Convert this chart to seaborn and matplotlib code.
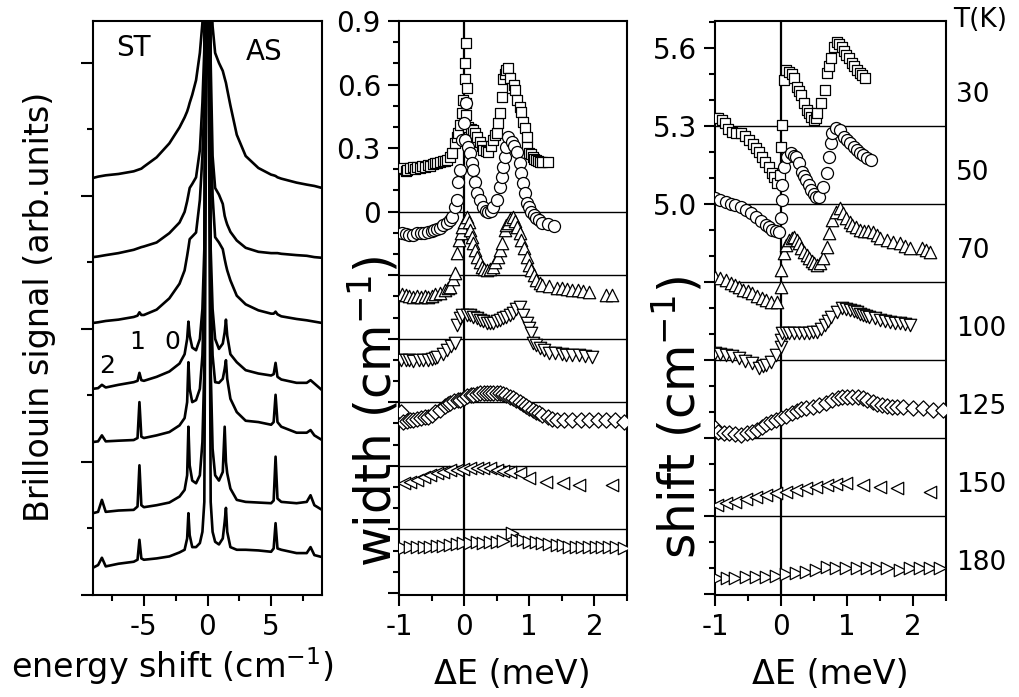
import matplotlib
matplotlib.use("Agg")
import matplotlib.pyplot as plt
import matplotlib.transforms as mtransforms
from matplotlib.ticker import FixedLocator, FixedFormatter, NullFormatter
import numpy as np
import seaborn as sns

# ---------------- left panel: Brillouin spectra (stacked, arb. units) ----------------
spec_x = [-9.0, -8.6, -8.3, -8.0, -7.0, -5.8, -5.5, -5.35, -5.2, -5.0, -4.0, -3.0,
          -2.2, -1.8, -1.6, -1.5, -1.4, -1.2, -0.9, -0.6, -0.4, -0.25, -0.1, 0.0,
          0.1, 0.25, 0.4, 0.6, 0.9, 1.2, 1.35, 1.45, 1.55, 1.8, 2.3, 3.0, 4.0, 5.0,
          5.2, 5.35, 5.5, 5.8, 7.0, 7.8, 8.1, 8.4, 9.0]
spec_1 = [6.27, 6.29, 6.30, 6.31, 6.33, 6.37, 6.39, 6.40, 6.41, 6.44, 6.58, 6.79,
          7.03, 7.18, 7.27, 7.33, 7.40, 7.52, 7.74, 8.15, 8.6, 9.3, 14, 20,
          14, 9.2, 8.55, 8.15, 8.0, 7.88, 7.77, 7.7, 7.6, 7.36, 6.92, 6.6, 6.42, 6.32,
          6.31, 6.30, 6.28, 6.26, 6.2, 6.17, 6.16, 6.15, 6.12]
spec_2 = [5.08, 5.09, 5.10, 5.11, 5.14, 5.19, 5.21, 5.22, 5.23, 5.24, 5.30, 5.44,
          5.60, 5.76, 5.92, 6.02, 6.12, 6.18, 6.28, 6.69, 7.4, 8.2, 14, 20,
          14, 8.0, 6.6, 6.12, 6.02, 5.88, 5.70, 5.63, 5.57, 5.46, 5.33, 5.22, 5.16, 5.14,
          5.14, 5.14, 5.14, 5.13, 5.11, 5.10, 5.09, 5.08, 5.07]
spec_3 = [4.09, 4.10, 4.11, 4.12, 4.14, 4.18, 4.20, 4.25, 4.21, 4.21, 4.29, 4.46,
          4.68, 4.88, 5.10, 5.22, 5.35, 5.39, 5.45, 5.94, 6.6, 7.4, 14, 20,
          14, 7.2, 6.0, 5.38, 5.30, 5.2, 5.05, 4.96, 4.88, 4.73, 4.50, 4.37, 4.28, 4.23,
          4.23, 4.26, 4.22, 4.19, 4.15, 4.13, 4.12, 4.11, 4.09]
spec_4 = [3.10, 3.11, 3.16, 3.12, 3.16, 3.20, 3.22, 3.34, 3.23, 3.22, 3.28, 3.36,
          3.48, 3.62, 3.85, 4.11, 3.90, 3.72, 3.68, 3.85, 4.3, 5.2, 12, 20,
          12, 5.2, 4.3, 3.85, 3.70, 3.78, 3.95, 4.14, 3.90, 3.62, 3.50, 3.38, 3.33, 3.30,
          3.32, 3.49, 3.28, 3.24, 3.19, 3.19, 3.23, 3.18, 3.08]
spec_5 = [2.30, 2.31, 2.40, 2.31, 2.32, 2.33, 2.36, 2.90, 2.38, 2.36, 2.40, 2.45,
          2.55, 2.66, 2.90, 3.50, 3.10, 2.90, 2.93, 3.10, 3.6, 4.6, 11, 20,
          11, 4.6, 3.6, 3.2, 3.19, 3.25, 3.40, 3.53, 3.25, 2.95, 2.75, 2.62, 2.60, 2.56,
          2.60, 3.01, 2.60, 2.53, 2.44, 2.44, 2.48, 2.40, 2.33]
spec_6 = [1.23, 1.25, 1.43, 1.25, 1.27, 1.28, 1.33, 1.95, 1.35, 1.32, 1.35, 1.39,
          1.48, 1.58, 1.80, 2.53, 1.95, 1.72, 1.68, 1.80, 2.3, 3.4, 10, 20,
          10, 3.4, 2.2, 1.8, 1.72, 1.85, 2.53, 2.0, 1.83, 1.6, 1.43, 1.40, 1.39, 1.38,
          1.42, 2.08, 1.45, 1.40, 1.38, 1.40, 1.50, 1.35, 1.28]
spec_7 = [0.41, 0.45, 0.56, 0.43, 0.47, 0.50, 0.53, 0.83, 0.55, 0.53, 0.55, 0.58,
          0.64, 0.68, 0.85, 1.23, 0.90, 0.72, 0.72, 0.78, 0.95, 1.4, 8, 20,
          8, 1.4, 0.95, 0.8, 0.76, 0.85, 1.10, 1.31, 0.95, 0.72, 0.68, 0.68, 0.67, 0.65,
          0.70, 1.08, 0.70, 0.68, 0.63, 0.63, 0.72, 0.60, 0.57]
spectra = [spec_1, spec_2, spec_3, spec_4, spec_5, spec_6, spec_7]

# ---------------- temperatures / markers ----------------
temps = ["30", "50", "70", "100", "125", "150", "180"]
markers = ["s", "o", "^", "v", "D", "<", ">"]
marker_sizes = [58, 75, 80, 80, 60, 80, 80]

# ---------------- middle panel: width (cm-1), offset curves ----------------
w30_x = [-0.98, -0.94, -0.9, -0.87, -0.83, -0.79, -0.75, -0.72, -0.68, -0.64, -0.6, -0.56,
         -0.52, -0.48, -0.44, -0.41, -0.37, -0.33, -0.29, -0.26, -0.22, -0.18, -0.14, -0.11,
         -0.09, -0.06, -0.03, -0.015, 0.015, 0.02, 0.03, 0.03, 0.03, 0.046, 0.06, 0.1, 0.14,
         0.17, 0.2, 0.24, 0.27, 0.29, 0.33, 0.37, 0.41, 0.44, 0.47, 0.5, 0.52, 0.55, 0.58,
         0.59, 0.62, 0.65, 0.67, 0.7, 0.73, 0.76, 0.78, 0.81, 0.85, 0.88, 0.9, 0.93, 0.96,
         0.97, 1.0, 1.03, 1.05, 1.08, 1.11, 1.14, 1.16, 1.2, 1.28]
w30_y = [0.20, 0.208, 0.19, 0.198, 0.205, 0.21, 0.20, 0.213, 0.205, 0.215, 0.21, 0.222,
         0.215, 0.225, 0.228, 0.231, 0.235, 0.238, 0.24, 0.246, 0.26, 0.279, 0.326, 0.35,
         0.373, 0.411, 0.468, 0.529, 0.624, 0.704, 0.794, 0.515, 0.458, 0.586, 0.40, 0.39, 0.387,
         0.37, 0.354, 0.331, 0.31, 0.293, 0.288, 0.283, 0.31, 0.34, 0.36, 0.373, 0.42, 0.468, 0.543,
         0.624, 0.65, 0.671, 0.68, 0.633, 0.586, 0.60, 0.576, 0.529, 0.496, 0.472, 0.425, 0.397, 0.354,
         0.307, 0.279, 0.27, 0.26, 0.25, 0.246, 0.24, 0.236, 0.236, 0.236]
w50_x = [-0.96, -0.9, -0.84, -0.78, -0.72, -0.66, -0.62, -0.56, -0.5, -0.47, -0.42, -0.37,
         -0.32, -0.26, -0.22, -0.18, -0.14, -0.11, -0.09, -0.06, -0.03, 0.0, 0.03, 0.015,
         0.06, 0.09, 0.12, 0.14, 0.17, 0.2, 0.24, 0.29, 0.33, 0.37, 0.41, 0.44, 0.5, 0.55,
         0.58, 0.59, 0.62, 0.65, 0.68, 0.73, 0.77, 0.81, 0.85, 0.88, 0.9, 0.93, 0.97, 1.0,
         1.03, 1.07, 1.11, 1.15, 1.2, 1.28, 1.38]
w50_y = [-0.099, -0.104, -0.109, -0.109, -0.10, -0.099, -0.099, -0.095, -0.09, -0.085, -0.08, -0.076,
         -0.065, -0.052, -0.04, -0.024, 0.02, 0.057, 0.142, 0.198, 0.34, 0.42, 0.515, 0.34,
         0.307, 0.279, 0.231, 0.198, 0.142, 0.09, 0.057, 0.024, 0.005, 0.0, 0.005, 0.024, 0.057, 0.118,
         0.165, 0.213, 0.26, 0.307, 0.35, 0.331, 0.31, 0.283, 0.231, 0.184, 0.137, 0.09, 0.042, 0.02,
         0.0, -0.015, -0.028, -0.04, -0.052, -0.06, -0.066]
w70_x = [-0.96, -0.9, -0.84, -0.78, -0.72, -0.66, -0.6, -0.56, -0.5, -0.44, -0.37, -0.3,
         -0.25, -0.21, -0.17, -0.14, -0.11, -0.08, -0.05, -0.03, 0.0, 0.05, 0.07, 0.09,
         0.12, 0.14, 0.17, 0.2, 0.24, 0.27, 0.31, 0.35, 0.4, 0.44, 0.48, 0.52, 0.55, 0.58,
         0.62, 0.65, 0.67, 0.71, 0.75, 0.78, 0.81, 0.85, 0.88, 0.92, 0.96, 1.0, 1.03, 1.07,
         1.11, 1.16, 1.2, 1.3, 1.42, 1.5, 1.58, 1.66, 1.75, 1.83, 1.92, 2.18, 2.27]
w70_y = [-0.39, -0.395, -0.40, -0.402, -0.40, -0.402, -0.40, -0.402, -0.398, -0.39, -0.383, -0.37,
         -0.36, -0.354, -0.32, -0.288, -0.194, -0.132, -0.1, -0.071, -0.05, -0.024, -0.05, -0.085,
         -0.12, -0.146, -0.18, -0.213, -0.24, -0.26, -0.27, -0.274, -0.27, -0.26, -0.24, -0.213, -0.18, -0.146,
         -0.085, -0.065, -0.052, -0.035, -0.024, -0.045, -0.071, -0.1, -0.132, -0.17, -0.213, -0.25, -0.274, -0.3,
         -0.321, -0.335, -0.345, -0.352, -0.359, -0.362, -0.365, -0.368, -0.372, -0.375, -0.378, -0.392, -0.392]
w100_x = [-0.97, -0.9, -0.84, -0.78, -0.7, -0.63, -0.56, -0.5, -0.45, -0.41, -0.33, -0.26,
          -0.2, -0.14, -0.11, -0.07, -0.03, 0.05, 0.09, 0.14, 0.19, 0.24, 0.29, 0.35, 0.4,
          0.44, 0.5, 0.55, 0.6, 0.65, 0.7, 0.75, 0.8, 0.85, 0.9, 0.96, 1.0, 1.03, 1.05, 1.1,
          1.16, 1.22, 1.31, 1.4, 1.5, 1.57, 1.65, 1.77, 1.85, 1.96]
w100_y = [-0.699, -0.70, -0.702, -0.704, -0.70, -0.70, -0.699, -0.695, -0.69, -0.685, -0.67, -0.652,
          -0.635, -0.619, -0.534, -0.5, -0.487, -0.487, -0.49, -0.496, -0.5, -0.51, -0.515, -0.524, -0.524,
          -0.524, -0.515, -0.51, -0.5, -0.496, -0.487, -0.477, -0.462, -0.449, -0.49, -0.524, -0.55, -0.572, -0.619, -0.63,
          -0.642, -0.652, -0.666, -0.668, -0.672, -0.676, -0.676, -0.676, -0.68, -0.685]
w125_x = [-0.97, -0.94, -0.88, -0.83, -0.78, -0.72, -0.66, -0.6, -0.56, -0.5, -0.44, -0.37,
          -0.3, -0.25, -0.21, -0.15, -0.1, -0.06, 0.0, 0.05, 0.1, 0.14, 0.2, 0.25, 0.3, 0.35,
          0.4, 0.45, 0.5, 0.55, 0.6, 0.65, 0.7, 0.75, 0.8, 0.85, 0.9, 0.95, 1.0, 1.05, 1.1,
          1.15, 1.2, 1.28, 1.35, 1.42, 1.54, 1.66, 1.79, 1.92, 2.05, 2.18, 2.31, 2.45]
w125_y = [-0.945, -0.992, -0.99, -0.985, -0.983, -0.98, -0.975, -0.97, -0.968, -0.96, -0.948, -0.935,
          -0.92, -0.91, -0.902, -0.895, -0.89, -0.888, -0.88, -0.872, -0.866, -0.864, -0.86, -0.857, -0.856, -0.855,
          -0.855, -0.855, -0.855, -0.855, -0.86, -0.866, -0.874, -0.882, -0.89, -0.898, -0.91, -0.918, -0.926, -0.935, -0.944,
          -0.95, -0.959, -0.97, -0.978, -0.983, -0.983, -0.983, -0.983, -0.983, -0.983, -0.983, -0.985, -0.992]
w150_x = [-0.93, -0.83, -0.72, -0.62, -0.52, -0.42, -0.32, -0.21, -0.11, -0.01, 0.09, 0.19,
          0.29, 0.39, 0.5, 0.6, 0.7, 0.85, 1.0, 1.26, 1.51, 1.77, 2.27]
w150_y = [-1.28, -1.275, -1.266, -1.255, -1.243, -1.235, -1.228, -1.222, -1.219, -1.214, -1.209, -1.209,
          -1.209, -1.212, -1.219, -1.224, -1.228, -1.233, -1.257, -1.276, -1.28, -1.29, -1.29]
w180_x = [-0.93, -0.83, -0.72, -0.62, -0.52, -0.42, -0.32, -0.21, -0.11, -0.01, 0.09, 0.19,
          0.29, 0.39, 0.5, 0.6, 0.73, 0.81, 0.9, 1.0, 1.1, 1.2, 1.31, 1.42, 1.52, 1.61, 1.71,
          1.81, 1.92, 2.02, 2.12, 2.22, 2.33, 2.45]
w180_y = [-1.587, -1.585, -1.583, -1.583, -1.583, -1.58, -1.578, -1.572, -1.568, -1.566, -1.564, -1.562,
          -1.564, -1.562, -1.559, -1.555, -1.516, -1.549, -1.55, -1.559, -1.562, -1.564, -1.568, -1.573, -1.575,
          -1.583, -1.583, -1.583, -1.583, -1.583, -1.585, -1.583, -1.585, -1.587]
width_x = [w30_x, w50_x, w70_x, w100_x, w125_x, w150_x, w180_x]
width_y = [w30_y, w50_y, w70_y, w100_y, w125_y, w150_y, w180_y]
width_lines = [0.0, -0.3, -0.6, -0.9, -1.2, -1.5]

# ---------------- right panel: shift (cm-1), offset curves ----------------
s30_x = [-1.0, -0.95, -0.9, -0.85, -0.8, -0.75, -0.68, -0.6, -0.55, -0.49, -0.43, -0.38,
         -0.33, -0.29, -0.24, -0.18, -0.14, -0.11, -0.06, -0.02, 0.0, 0.015, 0.05, 0.08,
         0.12, 0.16, 0.2, 0.24, 0.27, 0.31, 0.35, 0.4, 0.43, 0.46, 0.5, 0.53, 0.55, 0.61,
         0.66, 0.7, 0.73, 0.76, 0.81, 0.85, 0.88, 0.92, 0.96, 0.99, 1.03, 1.07, 1.11, 1.15,
         1.19, 1.22, 1.27]
s30_y = [5.331, 5.33, 5.323, 5.31, 5.29, 5.277, 5.275, 5.273, 5.26, 5.246, 5.23, 5.215,
         5.2, 5.181, 5.16, 5.142, 5.12, 5.104, 5.081, 5.11, 5.219, 5.304, 5.477, 5.515,
         5.508, 5.5, 5.485, 5.45, 5.435, 5.419, 5.388, 5.362, 5.35, 5.335, 5.323, 5.33, 5.35, 5.388,
         5.438, 5.504, 5.53, 5.562, 5.604, 5.623, 5.615, 5.604, 5.59, 5.573, 5.56, 5.542, 5.53, 5.515,
         5.505, 5.496, 5.485]
s50_x = [-1.0, -0.92, -0.84, -0.76, -0.69, -0.61, -0.53, -0.45, -0.38, -0.3, -0.23, -0.18,
         -0.14, -0.08, -0.03, 0.0, 0.015, 0.015, 0.05, 0.09, 0.15, 0.19, 0.23, 0.27, 0.32,
         0.35, 0.38, 0.42, 0.46, 0.5, 0.53, 0.58, 0.63, 0.69, 0.73, 0.76, 0.78, 0.84, 0.89,
         0.96, 1.0, 1.04, 1.1, 1.15, 1.2, 1.24, 1.3, 1.37]
s50_y = [5.023, 5.015, 5.008, 5.0, 4.996, 4.988, 4.977, 4.965, 4.95, 4.935, 4.919, 4.91,
         4.9, 4.895, 4.892, 4.946, 5.015, 5.073, 5.142, 5.181, 5.196, 5.185, 5.181, 5.158, 5.123,
         5.108, 5.092, 5.073, 5.054, 5.04, 5.027, 5.027, 5.065, 5.119, 5.181, 5.235, 5.273, 5.292, 5.285,
         5.258, 5.245, 5.235, 5.22, 5.208, 5.198, 5.188, 5.178, 5.169]
s70_x = [-1.0, -0.92, -0.84, -0.76, -0.7, -0.64, -0.57, -0.5, -0.44, -0.37, -0.29, -0.22,
         -0.15, -0.06, 0.0, 0.0, 0.05, 0.08, 0.12, 0.16, 0.2, 0.24, 0.27, 0.31, 0.35, 0.39,
         0.43, 0.47, 0.5, 0.55, 0.59, 0.63, 0.69, 0.73, 0.78, 0.84, 0.89, 0.94, 0.99, 1.04,
         1.08, 1.13, 1.19, 1.25, 1.32, 1.39, 1.45, 1.5, 1.6, 1.7, 1.8, 1.88, 1.95, 2.14, 2.2,
         2.26]
s70_y = [4.719, 4.714, 4.708, 4.695, 4.69, 4.681, 4.67, 4.664, 4.658, 4.648, 4.638, 4.63,
         4.623, 4.623, 4.681, 4.746, 4.812, 4.842, 4.862, 4.87, 4.873, 4.862, 4.85, 4.832, 4.815, 4.803,
         4.792, 4.78, 4.773, 4.765, 4.775, 4.792, 4.835, 4.888, 4.938, 4.97, 4.985, 4.965, 4.946, 4.93,
         4.919, 4.91, 4.9, 4.897, 4.895, 4.892, 4.88, 4.87, 4.862, 4.855, 4.85, 4.84, 4.831, 4.831, 4.823,
         4.815]
s100_x = [-1.0, -0.92, -0.84, -0.74, -0.64, -0.54, -0.44, -0.34, -0.28, -0.23, -0.15, -0.08,
          0.0, 0.0, 0.02, 0.07, 0.12, 0.19, 0.27, 0.35, 0.43, 0.49, 0.55, 0.6, 0.66, 0.71,
          0.76, 0.85, 0.93, 0.99, 1.04, 1.1, 1.15, 1.2, 1.24, 1.29, 1.34, 1.42, 1.5, 1.58,
          1.65, 1.72, 1.8, 1.88, 1.95]
s100_y = [4.427, 4.423, 4.419, 4.414, 4.408, 4.398, 4.388, 4.369, 4.375, 4.381, 4.392, 4.419,
          4.45, 4.477, 4.504, 4.504, 4.504, 4.504, 4.504, 4.504, 4.504, 4.506, 4.508, 4.52, 4.535, 4.55,
          4.565, 4.585, 4.6, 4.596, 4.592, 4.588, 4.585, 4.578, 4.573, 4.569, 4.565, 4.56, 4.554, 4.55,
          4.546, 4.544, 4.542, 4.538, 4.535]
s125_x = [-1.0, -0.95, -0.87, -0.79, -0.7, -0.6, -0.52, -0.44, -0.36, -0.29, -0.22, -0.15,
          -0.08, 0.0, 0.08, 0.17, 0.24, 0.31, 0.38, 0.48, 0.58, 0.68, 0.78, 0.86, 0.93, 1.0,
          1.08, 1.16, 1.24, 1.31, 1.39, 1.46, 1.53, 1.6, 1.68, 1.76, 1.85, 2.0, 2.15, 2.3, 2.45]
s125_y = [4.138, 4.123, 4.121, 4.119, 4.115, 4.112, 4.118, 4.123, 4.132, 4.142, 4.152, 4.162,
          4.17, 4.177, 4.186, 4.196, 4.203, 4.21, 4.215, 4.221, 4.227, 4.236, 4.246, 4.252, 4.258, 4.258,
          4.258, 4.256, 4.254, 4.246, 4.238, 4.232, 4.227, 4.223, 4.219, 4.219, 4.219, 4.215, 4.215, 4.208,
          4.208]
s150_x = [-0.97, -0.84, -0.69, -0.53, -0.38, -0.23, -0.08, 0.08, 0.23, 0.38, 0.53, 0.69,
          0.84, 0.99, 1.24, 1.5, 1.76, 2.26]
s150_y = [3.842, 3.85, 3.854, 3.865, 3.873, 3.881, 3.888, 3.892, 3.9, 3.908, 3.912, 3.919,
          3.923, 3.927, 3.919, 3.912, 3.908, 3.892]
s180_x = [-0.97, -0.82, -0.69, -0.53, -0.38, -0.23, -0.08, 0.08, 0.23, 0.38, 0.53, 0.69,
          0.84, 0.99, 1.15, 1.3, 1.45, 1.6, 1.8, 1.95, 2.11, 2.26, 2.41]
s180_y = [3.562, 3.562, 3.562, 3.565, 3.565, 3.565, 3.569, 3.577, 3.581, 3.585, 3.592, 3.604,
          3.6, 3.6, 3.6, 3.6, 3.6, 3.6, 3.592, 3.6, 3.6, 3.6, 3.6]
shift_x = [s30_x, s50_x, s70_x, s100_x, s125_x, s150_x, s180_x]
shift_y = [s30_y, s50_y, s70_y, s100_y, s125_y, s150_y, s180_y]
shift_lines = [5.3, 5.0, 4.7, 4.4, 4.1, 3.8]

W, H = 1019, 697


def px_axes(x0, x1, y0, y1):
    # pixel box (left, right, top, bottom) -> figure fraction rect
    return [x0 / W, (H - y1) / H, (x1 - x0) / W, (y1 - y0) / H]


def style_ticks(ax):
    for sp in ax.spines.values():
        sp.set_linewidth(1.5)
        sp.set_color("black")
    ax.tick_params(which="major", length=8, width=1.5, direction="out",
                   labelsize=20, pad=5, color="black")
    ax.tick_params(which="minor", length=4.5, width=1.5, direction="out", color="black")


def main():
    sns.set_style("ticks", rc={"axes.edgecolor": "black", "text.color": "black",
                               "axes.labelcolor": "black", "xtick.color": "black",
                               "ytick.color": "black"})
    plt.rcParams["font.family"] = ["DejaVu Sans"]
    plt.rcParams["axes.unicode_minus"] = False

    fig = plt.figure(figsize=(W / 100, H / 100), dpi=100)
    ax0 = fig.add_axes(px_axes(93, 322, 21, 595))
    ax1 = fig.add_axes(px_axes(399, 627, 21, 595))
    ax2 = fig.add_axes(px_axes(715, 946, 21, 595))

    # ---- left: spectra ----
    for ys in spectra:
        sns.lineplot(x=spec_x, y=ys, color="black", linewidth=1.9, sort=False,
                     estimator=None, ax=ax0)
    ax0.set_xlim(-9, 9)
    ax0.set_ylim(0, 8.63)
    ax0.xaxis.set_major_locator(FixedLocator([-5, 0, 5]))
    ax0.xaxis.set_minor_locator(FixedLocator([-7.5, -2.5, 2.5, 7.5]))
    ax0.yaxis.set_major_locator(FixedLocator([0, 2, 4, 6, 8]))
    ax0.yaxis.set_minor_locator(FixedLocator([1, 3, 5, 7]))
    ax0.yaxis.set_major_formatter(NullFormatter())
    style_ticks(ax0)
    ax0.tick_params(axis="y", which="major", length=9)
    ax0.set_xlabel("energy shift (cm$^{-1}$)", fontsize=24)
    ax0.xaxis.set_label_coords(0.345, -0.088)
    ax0.set_ylabel("Brillouin signal (arb.units)", fontsize=24)
    ax0.yaxis.set_label_coords(-0.16, 0.502)
    ax0.text(-5.85, 8.23, "ST", fontsize=20, ha="center", va="center")
    ax0.text(4.45, 8.17, "AS", fontsize=20, ha="center", va="center")
    ax0.text(-7.9, 3.45, "2", fontsize=18, ha="center", va="center")
    ax0.text(-5.55, 3.8, "1", fontsize=18, ha="center", va="center")
    ax0.text(-2.8, 3.8, "0", fontsize=18, ha="center", va="center")

    # ---- middle: width ----
    for yl in width_lines:
        ax1.axhline(yl, color="black", linewidth=1.0, zorder=1)
    ax1.axvline(0, color="black", linewidth=1.6, zorder=1)
    for xs, ys, mk, ms in zip(width_x, width_y, markers, marker_sizes):
        sns.scatterplot(x=xs, y=ys, marker=mk, s=ms, facecolor="white",
                        edgecolor="black", linewidth=0.9, ax=ax1, zorder=3)
    ax1.set_xlim(-1, 2.5)
    ax1.set_ylim(-1.81, 0.9)
    ax1.xaxis.set_major_locator(FixedLocator([-1, 0, 1, 2]))
    ax1.xaxis.set_minor_locator(FixedLocator([-0.5, 0.5, 1.5, 2.5]))
    ax1.yaxis.set_major_locator(FixedLocator([0.9, 0.6, 0.3, 0.0, -0.3, -0.6, -0.9, -1.2, -1.5, -1.8]))
    ax1.yaxis.set_major_formatter(FixedFormatter(["0.9", "0.6", "0.3", "0", "", "", "", "", "", ""]))
    ax1.yaxis.set_minor_locator(FixedLocator(np.round(np.arange(-1.8, 0.95, 0.1), 2)))
    style_ticks(ax1)
    ax1.set_xlabel("ΔE (meV)", fontsize=24)
    ax1.xaxis.set_label_coords(0.496, -0.11)
    ax1.set_ylabel("width (cm$^{-1}$)", fontsize=35)
    ax1.yaxis.set_label_coords(0.01, 0.32)

    # ---- right: shift ----
    for yl in shift_lines:
        ax2.axhline(yl, color="black", linewidth=1.0, zorder=1)
    ax2.axvline(0, color="black", linewidth=1.6, zorder=1)
    for xs, ys, mk, ms in zip(shift_x, shift_y, markers, marker_sizes):
        sns.scatterplot(x=xs, y=ys, marker=mk, s=ms, facecolor="white",
                        edgecolor="black", linewidth=0.9, ax=ax2, zorder=3)
    ax2.set_xlim(-1, 2.5)
    ax2.set_ylim(3.496, 5.704)
    ax2.xaxis.set_major_locator(FixedLocator([-1, 0, 1, 2]))
    ax2.xaxis.set_minor_locator(FixedLocator([-0.5, 0.5, 1.5, 2.5]))
    ax2.yaxis.set_major_locator(FixedLocator([5.6, 5.3, 5.0, 4.7, 4.4, 4.1, 3.8, 3.5]))
    ax2.yaxis.set_major_formatter(FixedFormatter(["5.6", "5.3", "5.0", "", "", "", "", ""]))
    ax2.yaxis.set_minor_locator(FixedLocator(np.round(np.arange(3.5, 5.75, 0.1), 2)))
    style_ticks(ax2)
    ax2.set_xlabel("ΔE (meV)", fontsize=24)
    ax2.xaxis.set_label_coords(0.498, -0.11)
    ax2.set_ylabel("shift (cm$^{-1}$)", fontsize=35)
    ax2.yaxis.set_label_coords(-0.04, 0.31)

    # temperature labels beside the right panel
    trans = mtransforms.blended_transform_factory(ax2.transAxes, ax2.transData)
    ax2.text(1.03, 5.708, "T(K)", fontsize=19, ha="left", va="center", transform=trans,
             clip_on=False)
    for i, t in enumerate(temps):
        ax2.text(1.045, shift_lines[0] + 0.12 - 0.3 * i, t, fontsize=19, ha="left",
                 va="center", transform=trans, clip_on=False)

    fig.savefig("out.png", dpi=100)
    plt.close(fig)


if __name__ == "__main__":
    main()
